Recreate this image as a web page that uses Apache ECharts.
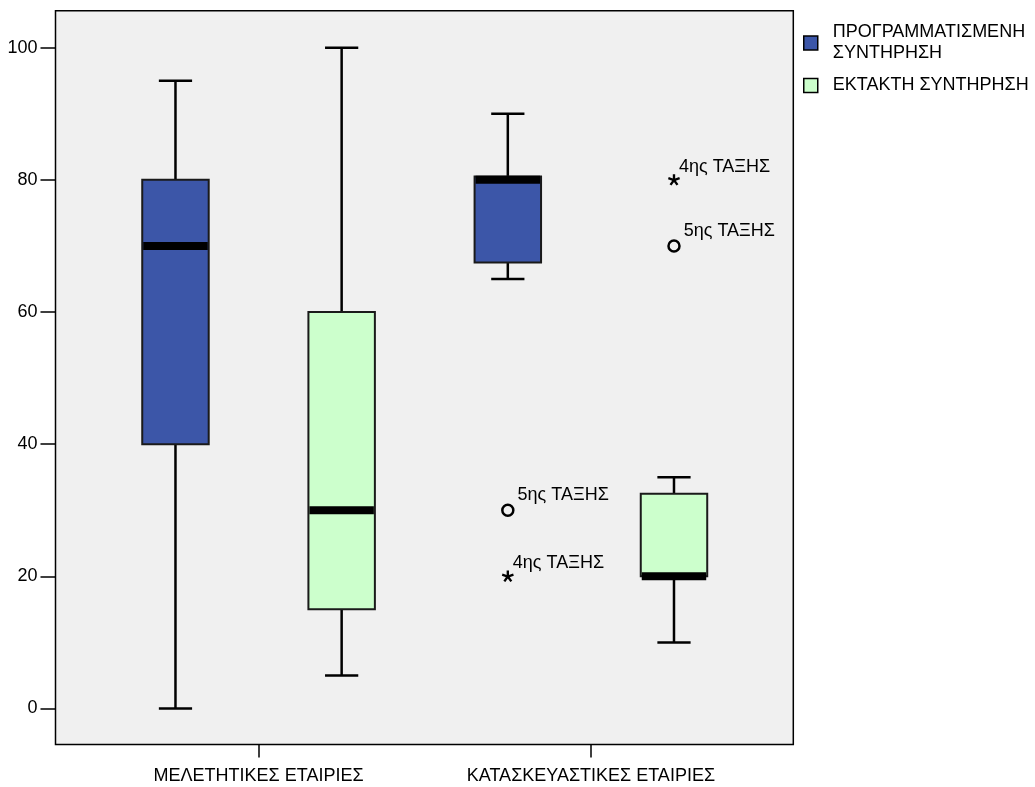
<!DOCTYPE html>
<html>
<head>
<meta charset="utf-8">
<script src="https://cdn.jsdelivr.net/npm/echarts@6/dist/echarts.min.js"></script>
<style>
html,body{margin:0;padding:0;background:#fff;}
#chart{width:1035px;height:787px;}
</style>
</head>
<body>
<div id="chart"></div>
<script>
// ---- data ----
const groups = ['ΜΕΛΕΤΗΤΙΚΕΣ ΕΤΑΙΡΙΕΣ', 'ΚΑΤΑΣΚΕΥΑΣΤΙΚΕΣ ΕΤΑΙΡΙΕΣ'];
const seriesNames = ['ΠΡΟΓΡΑΜΜΑΤΙΣΜΕΝΗ\nΣΥΝΤΗΡΗΣΗ', 'ΕΚΤΑΚΤΗ ΣΥΝΤΗΡΗΣΗ'];
// [min, Q1, median, Q3, max] per group
const plannedStats = [[0, 40, 70, 80, 95], [65, 67.5, 80, 80.5, 90]];
const emergencyStats = [[5, 15, 30, 60, 100], [10, 20, 20, 32.5, 35]];
// outliers (group 2 only)
const plannedOutliers = [30, 20];
const plannedOutlierKinds = ['outlier', 'extreme'];
const plannedOutlierLabels = ['5ης ΤΑΞΗΣ', '4ης ΤΑΞΗΣ'];
const emergencyOutliers = [80, 70];
const emergencyOutlierKinds = ['extreme', 'outlier'];
const emergencyOutlierLabels = ['4ης ΤΑΞΗΣ', '5ης ΤΑΞΗΣ'];
const yTicks = [0, 20, 40, 60, 80, 100];

// ---- styling ----
const FONT = 'Liberation Sans, Arial, sans-serif';
const COLORS = ['#3c56a8', '#ccffcc'];
const BOX_W = 0.4;
const ASTERISK = 'path://' +
  'M60 50 L60 0 L40 0 L40 50 Z ' +
  'M53.09 59.51 L100.64 44.06 L94.46 25.04 L46.91 40.49 Z ' +
  'M41.91 55.88 L71.30 96.33 L87.48 84.57 L58.09 44.12 Z ' +
  'M41.91 44.12 L12.52 84.57 L28.70 96.33 L58.09 55.88 Z ' +
  'M53.09 40.49 L5.54 25.04 L-0.64 44.06 L46.91 59.51 Z';

function xPos(g, s) { return g * 2 + s + 1; }

function boxData(stats, s) {
  return stats.map((st, g) => [xPos(g, s)].concat(st));
}

function makeRender(color) {
  return function (params, api) {
    const x = api.value(0);
    const pMin = api.coord([x, api.value(1)]);
    const pQ1 = api.coord([x, api.value(2)]);
    const pMed = api.coord([x, api.value(3)]);
    const pQ3 = api.coord([x, api.value(4)]);
    const pMax = api.coord([x, api.value(5)]);
    const w = api.size([BOX_W, 0])[0];
    const cx = pMin[0];
    const lineStyle = { stroke: '#000', lineWidth: 2.5 };
    return {
      type: 'group',
      children: [
        { type: 'line', shape: { x1: cx, y1: pMax[1], x2: cx, y2: pQ3[1] }, style: lineStyle },
        { type: 'line', shape: { x1: cx, y1: pQ1[1], x2: cx, y2: pMin[1] }, style: lineStyle },
        { type: 'line', shape: { x1: cx - w / 4, y1: pMax[1], x2: cx + w / 4, y2: pMax[1] }, style: lineStyle },
        { type: 'line', shape: { x1: cx - w / 4, y1: pMin[1], x2: cx + w / 4, y2: pMin[1] }, style: lineStyle },
        { type: 'rect', shape: { x: cx - w / 2, y: pQ3[1], width: w, height: pQ1[1] - pQ3[1] },
          style: { fill: color, stroke: '#1a1a1a', lineWidth: 2 } },
        { type: 'line', shape: { x1: cx - w / 2 + 1, y1: pMed[1], x2: cx + w / 2 - 1, y2: pMed[1] },
          style: { stroke: '#000', lineWidth: 8 } }
      ]
    };
  };
}

function outlierData(vals, kinds, labels, s) {
  return vals.map((v, i) => {
    const isExt = kinds[i] === 'extreme';
    return {
      value: [xPos(1, s), v],
      symbol: isExt ? ASTERISK : 'circle',
      symbolSize: isExt ? 12 : 11,
      symbolKeepAspect: true,
      itemStyle: isExt ? { color: '#000', borderWidth: 0, opacity: 1 } : { color: 'rgba(0,0,0,0)', borderColor: '#000', borderWidth: 2.5, opacity: 1 },
      label: {
        show: true, formatter: labels[i], position: 'right',
        distance: isExt ? -1 : 3,
        offset: [0, isExt ? -13 : -15],
        color: '#000', opacity: 1, fontFamily: FONT, fontSize: 18
      }
    };
  });
}

const chart = echarts.init(document.getElementById('chart'), null, { renderer: 'canvas' });
chart.setOption({
  animation: false,
  backgroundColor: '#fff',
  grid: {
    left: 55.5, top: 10.7, right: 241.7, bottom: 42.5,
    show: true, backgroundColor: '#f0f0f0', borderColor: '#000', borderWidth: 1.5,
    containLabel: false, outerBoundsMode: 'none'
  },
  legend: {
    orient: 'vertical', left: 803, top: 22, padding: 0,
    itemWidth: 14, itemHeight: 14, itemGap: 11,
    icon: 'rect',
    itemStyle: { borderColor: '#000', borderWidth: 1.5 },
    textStyle: { fontFamily: FONT, fontSize: 18, color: '#000', lineHeight: 21, padding: [0, 0, 0, 10] },
    data: seriesNames
  },
  xAxis: {
    type: 'value', min: 0.278, max: 4.718,
    splitLine: { show: false },
    axisLine: { show: false, onZero: false },
    axisTick: { show: true, customValues: groups.map((g, i) => i * 2 + 1.5), length: 13, lineStyle: { color: '#000', width: 1.5 } },
    axisLabel: {
      show: true, customValues: groups.map((g, i) => i * 2 + 1.5),
      formatter: function (v) { return groups[Math.round((v - 1.5) / 2)] || ''; },
      margin: 23, fontFamily: FONT, fontSize: 18, color: '#000'
    }
  },
  yAxis: {
    type: 'value', min: -5.45, max: 105.6,
    splitLine: { show: false },
    axisLine: { show: false, onZero: false },
    axisTick: { show: true, customValues: yTicks, length: 15, lineStyle: { color: '#000', width: 1.5 } },
    axisLabel: { show: true, customValues: yTicks, margin: 18, fontFamily: FONT, fontSize: 18, color: '#000' }
  },
  series: [
    {
      name: seriesNames[0], type: 'custom', renderItem: makeRender(COLORS[0]),
      itemStyle: { color: COLORS[0] },
      encode: { x: 0, y: [1, 2, 3, 4, 5] },
      data: boxData(plannedStats, 0), z: 2
    },
    {
      name: seriesNames[1], type: 'custom', renderItem: makeRender(COLORS[1]),
      itemStyle: { color: COLORS[1] },
      encode: { x: 0, y: [1, 2, 3, 4, 5] },
      data: boxData(emergencyStats, 1), z: 2
    },
    {
      name: 'outliers-planned', type: 'scatter', z: 3,
      data: outlierData(plannedOutliers, plannedOutlierKinds, plannedOutlierLabels, 0)
    },
    {
      name: 'outliers-emergency', type: 'scatter', z: 3,
      data: outlierData(emergencyOutliers, emergencyOutlierKinds, emergencyOutlierLabels, 1)
    }
  ]
});
</script>
</body>
</html>
